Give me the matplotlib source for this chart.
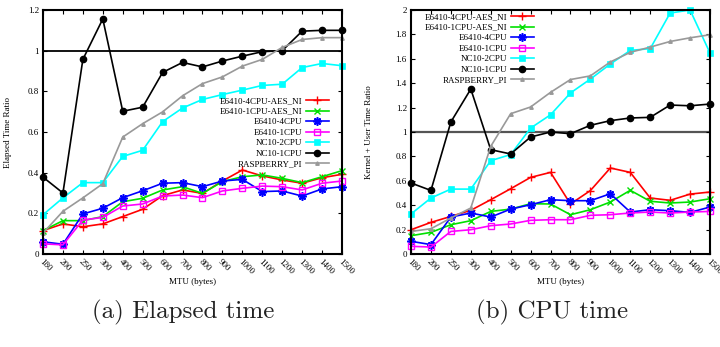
import matplotlib
matplotlib.use("Agg")
import matplotlib.pyplot as plt
import numpy as np

mtu = ["180", "200", "250", "300", "400", "500", "600", "700", "800",
       "900", "1000", "1100", "1200", "1300", "1400", "1500"]

series_names = ["E6410-4CPU-AES_NI", "E6410-1CPU-AES_NI", "E6410-4CPU",
                "E6410-1CPU", "NC10-2CPU", "NC10-1CPU", "RASPBERRY_PI"]

# (a) Elapsed time ratio
el_4aes = [0.115, 0.148, 0.134, 0.148, 0.184, 0.22, 0.287, 0.315, 0.298, 0.359, 0.413, 0.384, 0.364, 0.348, 0.375, 0.392]
el_1aes = [0.115, 0.164, 0.164, 0.184, 0.257, 0.274, 0.315, 0.331, 0.298, 0.356, 0.38, 0.389, 0.372, 0.351, 0.38, 0.41]
el_4cpu = [0.06, 0.048, 0.197, 0.225, 0.277, 0.311, 0.348, 0.351, 0.331, 0.359, 0.367, 0.307, 0.31, 0.285, 0.32, 0.331]
el_1cpu = [0.05, 0.045, 0.167, 0.18, 0.236, 0.246, 0.285, 0.29, 0.277, 0.31, 0.323, 0.334, 0.331, 0.315, 0.348, 0.359]
el_nc2 = [0.193, 0.276, 0.351, 0.351, 0.48, 0.51, 0.651, 0.718, 0.76, 0.784, 0.806, 0.829, 0.835, 0.917, 0.937, 0.926]
el_nc1 = [0.378, 0.30, 0.957, 1.156, 0.702, 0.722, 0.893, 0.942, 0.92, 0.949, 0.973, 0.995, 1.0, 1.096, 1.10, 1.10]
el_rpi = [0.103, 0.21, 0.276, 0.346, 0.575, 0.641, 0.699, 0.778, 0.838, 0.871, 0.924, 0.957, 1.016, 1.055, 1.064, 1.064]

# (b) CPU time ratio
cp_4aes = [0.199, 0.259, 0.308, 0.358, 0.445, 0.535, 0.628, 0.669, 0.41, 0.52, 0.705, 0.669, 0.459, 0.44, 0.491, 0.508]
cp_1aes = [0.15, 0.177, 0.24, 0.273, 0.349, 0.368, 0.412, 0.41, 0.322, 0.363, 0.426, 0.522, 0.432, 0.418, 0.426, 0.453]
cp_4cpu = [0.104, 0.077, 0.303, 0.336, 0.303, 0.368, 0.404, 0.445, 0.437, 0.437, 0.494, 0.344, 0.363, 0.355, 0.341, 0.385]
cp_1cpu = [0.063, 0.057, 0.185, 0.199, 0.232, 0.246, 0.276, 0.281, 0.281, 0.317, 0.322, 0.336, 0.344, 0.336, 0.344, 0.349]
cp_nc2 = [0.328, 0.459, 0.532, 0.532, 0.765, 0.815, 1.032, 1.141, 1.32, 1.434, 1.557, 1.669, 1.683, 1.975, 2.0, 1.647]
cp_nc1 = [0.582, 0.521, 1.082, 1.352, 0.855, 0.82, 0.959, 1.0, 0.986, 1.055, 1.093, 1.115, 1.12, 1.221, 1.215, 1.229]
cp_rpi = [0.185, 0.207, 0.295, 0.377, 0.882, 1.15, 1.205, 1.325, 1.43, 1.46, 1.574, 1.653, 1.696, 1.742, 1.772, 1.797]

styles = [
    dict(color="#ff0000", marker="+", ms=6, mew=1.0),
    dict(color="#00e000", marker="x", ms=5, mew=1.0),
    dict(color="#0000ff", marker=(8, 2, 0), ms=6, mew=1.2),
    dict(color="#ff00ff", marker="s", ms=5, mfc="none", mew=1.0),
    dict(color="#00ffff", marker="s", ms=4.5, mew=0.5),
    dict(color="#000000", marker="o", ms=4.5),
    dict(color="#999999", marker="^", ms=2.5),
]

serif = ["Liberation Serif", "DejaVu Serif"]
plt.rcParams["font.family"] = serif
plt.rcParams["font.size"] = 6.5

fig = plt.figure(figsize=(7.2, 3.47), dpi=100)
ax1 = fig.add_axes([43 / 720, 1 - 254 / 347, 299 / 720, 244 / 347])
ax2 = fig.add_axes([411 / 720, 1 - 254 / 347, 299 / 720, 244 / 347])

x = np.arange(len(mtu))


def draw(ax, data, ymax, yticks, ylabel, ylab_x, refcolor, reflw, legend_loc):
    for name, vals, st in zip(series_names, data, styles):
        ax.plot(x, vals, lw=1.2, label=name, clip_on=False, **st)
    ax.axhline(1.0, color=refcolor, lw=reflw, zorder=1)
    ax.set_xlim(0, len(mtu) - 1)
    ax.set_ylim(0, ymax)
    ax.set_xticks(x)
    ax.set_xticklabels(mtu, rotation=-45, ha="left", va="top", rotation_mode="anchor")
    ax.set_yticks(yticks)
    ax.set_yticklabels([("%g" % t) for t in yticks])
    ax.tick_params(direction="in", top=True, right=True, length=3, width=0.8,
                   labelsize=6.5, pad=3)
    for sp in ax.spines.values():
        sp.set_linewidth(1.5)
    ax.set_xlabel("MTU (bytes)", fontsize=6.5)
    ax.xaxis.set_label_coords(0.5, -0.1)
    ax.set_ylabel(ylabel, fontsize=6.5)
    ax.yaxis.set_label_coords(ylab_x, 0.5)
    leg = ax.legend(loc=legend_loc[0], bbox_to_anchor=legend_loc[1], frameon=False,
                    markerfirst=False, fontsize=6.5, labelspacing=0.25,
                    handlelength=2.6, handletextpad=0.4, borderpad=0.2,
                    borderaxespad=0)
    return leg


draw(ax1, [el_4aes, el_1aes, el_4cpu, el_1cpu, el_nc2, el_nc1, el_rpi],
     1.2, [0, 0.2, 0.4, 0.6, 0.8, 1.0, 1.2], "Elapsed Time Ratio", -0.104,
     "#000000", 1.3, ("upper right", ((331 - 43) / 299, (254 - 95) / 244)))
draw(ax2, [cp_4aes, cp_1aes, cp_4cpu, cp_1cpu, cp_nc2, cp_nc1, cp_rpi],
     2.0, [0, 0.2, 0.4, 0.6, 0.8, 1.0, 1.2, 1.4, 1.6, 1.8, 2.0],
     "Kernel + User Time Ratio", -0.127,
     "#555555", 1.6, ("upper right", ((536 - 411) / 299, (254 - 11) / 244)))

fig.text(183 / 720, 1 - 312 / 347, "(a) Elapsed time", ha="center", va="center",
         fontsize=18, family=["cmr10", "DejaVu Serif"], color="#222222")
fig.text(552 / 720, 1 - 312 / 347, "(b) CPU time", ha="center", va="center",
         fontsize=18, family=["cmr10", "DejaVu Serif"], color="#222222")

fig.savefig("out.png", dpi=100)
